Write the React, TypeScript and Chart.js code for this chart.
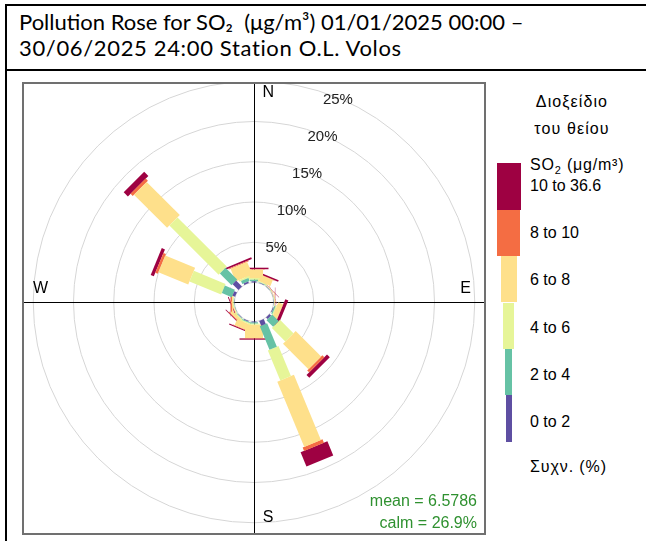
import React, { useEffect, useRef } from 'react';
import { Chart, registerables, PolarAreaController, ArcElement } from 'chart.js';

// ---------------- data ----------------
const DIRECTIONS = ['N', 'NNE', 'NE', 'ENE', 'E', 'ESE', 'SE', 'SSE', 'S', 'SSW', 'SW', 'WSW', 'W', 'WNW', 'NW', 'NNW'];

const BAND_LABELS = ['0 to 2', '2 to 4', '4 to 6', '6 to 8', '8 to 10', '10 to 36.6'];
const BAND_COLORS = ['#5E4FA2', '#66C2A5', '#E6F598', '#FEE08B', '#F46D43', '#9E0142'];

// frequency (%) of each SO2 concentration band, per wind direction (same order as DIRECTIONS)
const FREQ_0_2 = [0.15, 0.05, 0.03, 0.02, 0.03, 0.10, 0.27, 0.65, 0.10, 0.08, 0.05, 0.02, 0.03, 0.36, 1.03, 0.20];
const FREQ_2_4 = [0.20, 0.05, 0.03, 0.02, 0.03, 0.15, 1.16, 3.15, 0.15, 0.12, 0.07, 0.03, 0.05, 1.34, 2.05, 0.40];
const FREQ_4_6 = [0.20, 0.10, 0.04, 0.02, 0.04, 0.15, 2.36, 4.04, 0.15, 0.15, 0.13, 0.05, 0.07, 4.26, 8.65, 0.20];
const FREQ_6_8 = [1.05, 0.80, 0.04, 0.04, 0.05, 0.60, 4.47, 8.76, 1.65, 0.80, 0.35, 0.10, 0.15, 4.01, 5.82, 1.70];
const FREQ_8_10 = [0.05, 0.05, 0.02, 0.02, 0.03, 0.05, 0.34, 0.45, 0.05, 0.07, 0.10, 0.05, 0.17, 0.33, 0.38, 0.12];
const FREQ_10_36 = [0.19, 0.20, 0.04, 0.02, 0.04, 0.40, 0.50, 1.90, 0.16, 0.13, 0.10, 0.10, 0.03, 0.42, 0.74, 0.22];

const RING_TICKS = [5, 10, 15, 20, 25];
const RING_LABELS = ['5%', '10%', '15%', '20%', '25%'];
const COMPASS_LABELS = ['N', 'E', 'S', 'W'];

const TITLE_LINE_1 = 'Pollution Rose for SO\u2082  (\u03bcg/m\u00b3) 01/01/2025 00:00 \u2013';
const TITLE_LINE_2 = '30/06/2025 24:00 Station O.L. Volos';
const LEGEND_HEAD_1 = 'Διοξείδιο';
const LEGEND_HEAD_2 = 'του θείου';
const LEGEND_UNIT_MAIN = 'SO';
const LEGEND_UNIT_SUB = '2';
const LEGEND_UNIT_REST = ' (\u03bcg/m\u00b3)';
const LEGEND_FOOT = 'Συχν. (%)';
const MEAN_VALUE = '6.5786';
const CALM_VALUE = '26.9%';

// ---------------- style constants ----------------
const AXIS_MIN = -2.42; // centre hole (offset) of the rose
const AXIS_MAX = 27.39;
const PADDLE_WIDTHS = [5, 8, 11.5, 18, 21.5, 29];
const LEGEND_BAR_WIDTHS = [6, 7.3, 11.7, 16, 22.7, 24];
const LEGEND_BAR_CX = 508.6;
const LEGEND_BAR_TOP = 163.3;
const LEGEND_BAR_STEP = 46.4;
const LEGEND_LABEL_FIRST = 184.9;
const LEGEND_LABEL_STEP = 47.35;
const COMPASS_OFFSETS: [number, number][] = [
  [14.3, -209.5],
  [211.5, -13],
  [14, 216],
  [-213.5, -13],
];
const SANS = '"Liberation Sans", Arial, Helvetica, sans-serif';

// ---------------- custom paddle rose (openair style) ----------------
class PaddleElement extends ArcElement {
  static id = 'paddle';
  static defaults = { ...(ArcElement as any).defaults };
  static defaultRoutes = (ArcElement as any).defaultRoutes;
  draw(ctx: CanvasRenderingContext2D) {
    const el = this as any;
    const inner = el.innerRadius;
    const outer = el.outerRadius;
    const hw = el.halfWidth || 0;
    if (!(outer > inner) || hw <= 0) return;
    const a = (el.startAngle + el.endAngle) / 2;
    const ux = Math.cos(a);
    const uy = Math.sin(a);
    const px = -uy * hw;
    const py = ux * hw;
    ctx.save();
    ctx.fillStyle = el.options.backgroundColor;
    ctx.beginPath();
    ctx.moveTo(el.x + ux * inner + px, el.y + uy * inner + py);
    ctx.lineTo(el.x + ux * outer + px, el.y + uy * outer + py);
    ctx.lineTo(el.x + ux * outer - px, el.y + uy * outer - py);
    ctx.lineTo(el.x + ux * inner - px, el.y + uy * inner - py);
    ctx.closePath();
    ctx.fill();
    ctx.restore();
  }
}

class PaddleRoseController extends PolarAreaController {
  static id = 'paddleRose';
  static defaults = { ...(PolarAreaController as any).defaults, dataElementType: 'paddle' };
  static overrides = (PolarAreaController as any).overrides;
  updateElements(elements: any[], start: number, count: number, mode: any) {
    super.updateElements(elements as any, start, count, mode);
    const scale = (this as any)._cachedMeta.rScale;
    const ds = (this as any).getDataset();
    for (let i = start; i < start + count; i++) {
      const el = elements[i];
      el.innerRadius = scale.getDistanceFromCenterForValue(ds.bases[i]);
      el.halfWidth = ds.paddleWidth / 2;
    }
  }
}

Chart.register(...registerables, PaddleElement as any, PaddleRoseController as any);

const overlayPlugin = {
  id: 'roseOverlay',
  beforeDatasetsDraw(chart: any) {
    const { ctx, width, height } = chart;
    const s = chart.scales.r;
    ctx.save();
    ctx.strokeStyle = '#000';
    ctx.lineWidth = 1;
    ctx.beginPath();
    ctx.moveTo(s.xCenter + 0.5, 0);
    ctx.lineTo(s.xCenter + 0.5, height);
    ctx.moveTo(0, s.yCenter + 0.5);
    ctx.lineTo(width, s.yCenter + 0.5);
    ctx.stroke();
    ctx.restore();
  },
  afterDraw(chart: any) {
    const ctx = chart.ctx;
    const s = chart.scales.r;
    ctx.save();
    ctx.textAlign = 'center';
    ctx.textBaseline = 'middle';
    ctx.fillStyle = '#222';
    ctx.font = `15px ${SANS}`;
    const a = (22.5 * Math.PI) / 180;
    RING_TICKS.forEach((v, i) => {
      const d = s.getDistanceFromCenterForValue(v) - 1.5;
      ctx.fillText(RING_LABELS[i], s.xCenter + d * Math.sin(a), s.yCenter - d * Math.cos(a));
    });
    ctx.fillStyle = '#000';
    ctx.font = `16px ${SANS}`;
    COMPASS_LABELS.forEach((lab, i) => {
      const [dx, dy] = COMPASS_OFFSETS[i];
      ctx.fillText(lab, s.xCenter + dx, s.yCenter + dy);
    });
    ctx.restore();
  },
};

const BANDS = [FREQ_0_2, FREQ_2_4, FREQ_4_6, FREQ_6_8, FREQ_8_10, FREQ_10_36];

function buildDatasets() {
  return BANDS.map((band, b) => {
    const bases = DIRECTIONS.map((_, i) => BANDS.slice(0, b).reduce((sum, arr) => sum + arr[i], 0));
    return {
      label: BAND_LABELS[b],
      data: bases.map((base, i) => base + band[i]),
      bases,
      paddleWidth: PADDLE_WIDTHS[b],
      backgroundColor: BAND_COLORS[b],
      borderWidth: 0,
    };
  });
}

export default function App() {
  const ref = useRef<HTMLCanvasElement>(null);

  useEffect(() => {
    if (!ref.current) return;
    const chart = new Chart(ref.current, {
      type: 'paddleRose' as any,
      data: { labels: DIRECTIONS, datasets: buildDatasets() as any },
      options: {
        responsive: false,
        animation: false,
        events: [],
        layout: { padding: 0 },
        plugins: {
          legend: { display: false },
          tooltip: { enabled: false },
        },
        scales: {
          r: {
            type: 'radialLinear',
            min: AXIS_MIN,
            max: AXIS_MAX,
            startAngle: -11.25,
            ticks: { display: false },
            afterBuildTicks: (scale: any) => {
              scale.ticks = [0, ...RING_TICKS].map((v) => ({ value: v }));
            },
            grid: { circular: true, color: '#d6d6d6', lineWidth: 1 },
            angleLines: { display: false },
            pointLabels: { display: false },
          } as any,
        },
      } as any,
      plugins: [overlayPlugin],
    });
    return () => chart.destroy();
  }, []);

  const bandTop = (b: number) => LEGEND_BAR_TOP + (BAND_LABELS.length - 1 - b) * LEGEND_BAR_STEP;
  const labelCenter = (b: number) => LEGEND_LABEL_FIRST + (BAND_LABELS.length - 1 - b) * LEGEND_LABEL_STEP;

  return (
    <div
      style={{
        position: 'absolute',
        left: 0,
        top: 0,
        width: 646,
        height: 541,
        overflow: 'hidden',
        background: '#fff',
        fontFamily: SANS,
        color: '#000',
      }}
    >
      {/* table borders */}
      <div style={{ position: 'absolute', left: 5, top: 4, right: 0, height: 2, background: '#000' }} />
      <div style={{ position: 'absolute', left: 5, top: 4, width: 2, bottom: 0, background: '#000' }} />
      <div style={{ position: 'absolute', left: 5, top: 69, right: 0, height: 2, background: '#000' }} />

      {/* title */}
      <div
        style={{
          position: 'absolute',
          left: 19,
          top: 9,
          fontFamily: 'Lato, "Open Sans", sans-serif',
          fontSize: 22,
          lineHeight: '26px',
          whiteSpace: 'pre',
        }}
      >
        <div>{TITLE_LINE_1}</div>
        <div style={{ letterSpacing: '0.65px' }}>{TITLE_LINE_2}</div>
      </div>

      {/* plot panel */}
      <div
        style={{
          position: 'absolute',
          left: 22,
          top: 82,
          width: 460,
          height: 449,
          border: '2px solid #707070',
          overflow: 'hidden',
        }}
      >
        <canvas
          ref={ref}
          width={480}
          height={480}
          style={{ position: 'absolute', left: -10, top: -22, width: 480, height: 480 }}
        />
        <div
          style={{
            position: 'absolute',
            right: 7,
            top: 405.5,
            fontSize: 16,
            lineHeight: '22.5px',
            color: '#2f9130',
            textAlign: 'right',
            whiteSpace: 'pre',
          }}
        >
          {`mean = ${MEAN_VALUE}\ncalm = ${CALM_VALUE}`}
        </div>
      </div>

      {/* legend */}
      <div
        style={{
          position: 'absolute',
          left: 502,
          width: 140,
          top: 89.4,
          fontSize: 16,
          lineHeight: '26.7px',
          textAlign: 'center',
          whiteSpace: 'pre',
          letterSpacing: '1.1px',
        }}
      >
        {LEGEND_HEAD_1 + '\n' + LEGEND_HEAD_2}
      </div>
      <div
        style={{
          position: 'absolute',
          left: 530,
          top: 152.5,
          fontSize: 16,
          lineHeight: '23px',
          whiteSpace: 'pre',
          letterSpacing: '0.8px',
        }}
      >
        {LEGEND_UNIT_MAIN}
        <span style={{ fontSize: 11, position: 'relative', top: 4 }}>{LEGEND_UNIT_SUB}</span>
        {LEGEND_UNIT_REST}
      </div>
      {BAND_LABELS.map((lab, b) => (
        <React.Fragment key={lab}>
          <div
            style={{
              position: 'absolute',
              left: LEGEND_BAR_CX - LEGEND_BAR_WIDTHS[b] / 2,
              width: LEGEND_BAR_WIDTHS[b],
              top: bandTop(b),
              height: LEGEND_BAR_STEP,
              background: BAND_COLORS[b],
            }}
          />
          <div
            style={{
              position: 'absolute',
              left: 530,
              top: labelCenter(b) - 11.3,
              fontSize: 16,
              lineHeight: '23px',
              whiteSpace: 'pre',
            }}
          >
            {lab}
          </div>
        </React.Fragment>
      ))}
      <div
        style={{
          position: 'absolute',
          left: 530,
          top: 454.7,
          fontSize: 16,
          lineHeight: '23px',
          whiteSpace: 'pre',
          letterSpacing: '0.9px',
        }}
      >
        {LEGEND_FOOT}
      </div>
    </div>
  );
}
